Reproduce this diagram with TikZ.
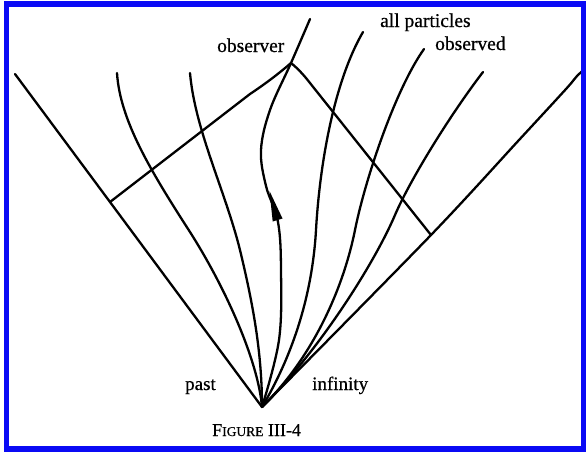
\documentclass[tikz,border=0pt]{standalone}
\usepackage{fontspec}
\setmainfont{Liberation Serif}[FakeBold=0.6]
\definecolor{frameblue}{RGB}{10,10,245}
\begin{document}
\begin{tikzpicture}[x=1pt,y=-1pt,
  wl/.style={line width=2.3pt, line cap=round, line join=round},
  lbl/.style={inner sep=0pt, anchor=base west, font=\fontsize{19.5}{20}\selectfont}]
\useasboundingbox (0,0) rectangle (586,451);
\fill[white] (0,0) rectangle (586,451);
% key points
\coordinate (A) at (262,407);
\coordinate (O) at (291,63);
\coordinate (LT) at (15,74);
\coordinate (LJ) at (110,202);
\coordinate (RJ) at (431,235);
\coordinate (RT) at (586,68);
% outer light-cone lines
\draw[wl] (LT) -- (LJ) -- (A);
\draw[wl] plot[smooth, tension=0.5] coordinates {(A) (RJ) (519,140) (566,89) (577,76) (RT)};
% past light cone of the observer event
\draw[wl] (LJ) -- (250,94) .. controls (262,86) and (276,76) .. (O);
\draw[wl] (O) .. controls (296,67) and (300,71) .. (306,78) -- (RJ);
% particle worldlines
\draw[wl] (117,73) .. controls (120,120) and (150,170) .. (190,232)
                   .. controls (225,287) and (258,360) .. (A);
\draw[wl] (190,73) .. controls (195,130) and (225,190) .. (240,250)
                   .. controls (252,300) and (262,350) .. (A);
\draw[wl] (363,32) .. controls (335,80) and (320,160) .. (316,230)
                   .. controls (312,300) and (290,360) .. (A);
\draw[wl] (424,49) .. controls (395,90) and (365,180) .. (355,230)
                   .. controls (344,285) and (315,355) .. (A);
\draw[wl] (483,72) .. controls (450,115) and (410,180) .. (395,215)
                   .. controls (375,262) and (320,350) .. (A);
% observer worldline
\draw[wl] plot[smooth, tension=0.6] coordinates {(310,19) (O) (270,110) (261,150) (266,186) (278,222) (281,270) (279,340) (A)};
\fill (269.5,191) -- (272.7,221.5) -- (282.5,218.5) -- cycle;
% labels
\node[lbl] (obsr) at (217,52) {observer};
\node[lbl] (allp) at (380,27) {all particles};
\node[lbl] (obsd) at (435,50) {observed};
\node[lbl, font=\fontsize{19}{20}\selectfont] (past) at (185,390) {past};
\node[lbl, font=\fontsize{19}{20}\selectfont] (inf) at (312,390) {infinity};
\node[inner sep=0pt, anchor=base west] (cap) at (212,436) {\fontsize{18}{20}\selectfont F{\fontsize{13.5}{14}\selectfont IGURE} III-4};
% frame
\draw[line width=5.5pt, frameblue] (6.3,4.2) rectangle (583.5,449);
\end{tikzpicture}
\end{document}
